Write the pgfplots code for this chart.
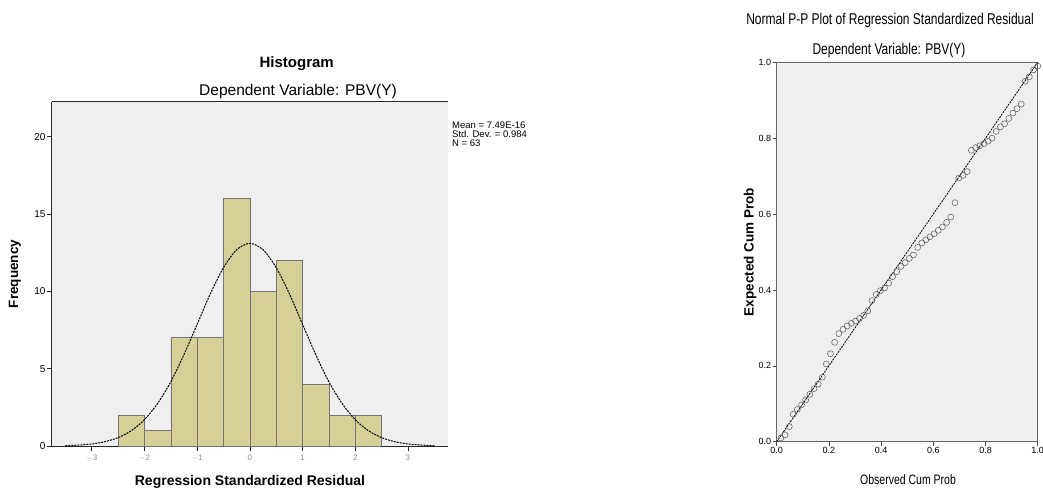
\documentclass[border=0pt]{standalone}
\usepackage{fontspec}
\setmainfont{Liberation Sans}
\usepackage{graphicx}
\usepackage{pgfplots}
\pgfplotsset{compat=1.18}
\definecolor{khaki}{RGB}{213,207,152}
\definecolor{bggray}{RGB}{239,239,240}
\begin{document}
\begin{tikzpicture}[x=1pt,y=1pt]
\path[use as bounding box] (0,0) rectangle (1043,490);
% ---------------- Histogram ----------------
\begin{axis}[
  at={(51.7pt,44pt)}, anchor=south west,
  scale only axis, width=396.3pt, height=344.3pt,
  xmin=-3.76, xmax=3.76, ymin=0, ymax=22.26,
  axis x line=box, axis y line=left,
  axis line style={-, black!85, line width=0.9pt},
  axis background/.style={fill=bggray},
  xtick={-3,-2,-1,0,1,2,3},
  xticklabels={$-$3,$-$2,$-$1,0,1,2,3},
  ytick={0,5,10,15,20},
  xtick pos=bottom, ytick pos=left,
  tick align=outside, major tick length=5pt,
  tick style={black!85, line width=0.7pt},
  /pgf/number format/assume math mode=true,
  xticklabel style={font=\fontsize{8}{9}\selectfont, text=black!45},
  yticklabel style={font=\fontsize{10}{11}\selectfont, inner sep=1pt},
  clip=false,
]
\addplot[ybar interval, fill=khaki, draw=black!55, line width=0.6pt] coordinates {
  (-2.5,2) (-2,1) (-1.5,7) (-1,7) (-0.5,16) (0,10) (0.5,12) (1,4) (1.5,2) (2,2) (2.5,0)
};
\addplot[black, line width=1pt, smooth, dash pattern=on 2pt off 1pt] coordinates {
  (-3.5,0.025) (-3.25,0.06) (-3,0.13) (-2.75,0.28) (-2.5,0.54) (-2.25,0.99)
  (-2,1.70) (-1.75,2.75) (-1.5,4.15) (-1.25,5.91) (-1,7.87) (-0.75,9.84)
  (-0.5,11.53) (-0.25,12.69) (0,13.1) (0.25,12.69) (0.5,11.53) (0.75,9.84)
  (1,7.87) (1.25,5.91) (1.5,4.15) (1.75,2.75) (2,1.70) (2.25,0.99)
  (2.5,0.54) (2.75,0.28) (3,0.13) (3.25,0.06) (3.5,0.025)
};
\end{axis}
\node[font=\bfseries\fontsize{15}{17}\selectfont] at (296.7,426.7) {Histogram};
\node[font=\fontsize{15.5}{17}\selectfont] at (298,398.3) {Dependent Variable: PBV(Y)};
\node[font=\bfseries\fontsize{14}{16}\selectfont] at (250,8.3) {Regression Standardized Residual};
\node[font=\bfseries\fontsize{13.5}{15}\selectfont, rotate=90] at (15,216) {Frequency};
\node[font=\fontsize{9.5}{10}\selectfont, anchor=west, inner sep=0pt] at (452,365) {Mean = 7.49E-16};
\node[font=\fontsize{9.5}{10}\selectfont, anchor=west, inner sep=0pt] at (452,356) {Std. Dev. = 0.984};
\node[font=\fontsize{9.5}{10}\selectfont, anchor=west, inner sep=0pt] at (452,347) {N = 63};
% ---------------- P-P plot ----------------
\begin{axis}[
  at={(776.7pt,48.3pt)}, anchor=south west,
  scale only axis, width=261pt, height=379.4pt,
  xmin=0, xmax=1, ymin=0, ymax=1,
  axis line style={black!60, line width=0.6pt},
  axis background/.style={fill=bggray},
  xtick={0,0.2,0.4,0.6,0.8,1},
  ytick={0,0.2,0.4,0.6,0.8,1},
  xtick pos=bottom, ytick pos=left,
  tick align=outside, major tick length=4pt,
  tick style={black!70, line width=0.6pt},
  /pgf/number format/assume math mode=true,
  /pgf/number format/fixed, /pgf/number format/fixed zerofill,
  /pgf/number format/precision=1,
  ticklabel style={font=\fontsize{9}{10}\selectfont, inner sep=1.5pt},
  clip=false,
]
\addplot[black, line width=0.8pt, dash pattern=on 2pt off 1pt] coordinates {(0,0) (1,1)};
\addplot[only marks, mark=o, mark size=3pt, mark options={draw=black!65, line width=0.5pt}] coordinates {
  (0.016,0.010) (0.032,0.018) (0.048,0.040) (0.063,0.072) (0.079,0.085)
  (0.095,0.097) (0.111,0.110) (0.127,0.125) (0.143,0.140) (0.159,0.152)
  (0.175,0.170) (0.190,0.205) (0.206,0.232) (0.222,0.262) (0.238,0.285)
  (0.254,0.296) (0.270,0.305) (0.286,0.312) (0.302,0.318) (0.317,0.325)
  (0.333,0.333) (0.349,0.345) (0.365,0.372) (0.381,0.388) (0.397,0.398)
  (0.413,0.405) (0.429,0.418) (0.444,0.435) (0.460,0.448) (0.476,0.462)
  (0.492,0.472) (0.508,0.483) (0.524,0.492) (0.540,0.512) (0.556,0.524)
  (0.571,0.532) (0.587,0.540) (0.603,0.548) (0.619,0.557) (0.635,0.566)
  (0.651,0.578) (0.667,0.592) (0.683,0.630) (0.698,0.695) (0.714,0.702)
  (0.730,0.712) (0.746,0.768) (0.762,0.775) (0.778,0.780) (0.794,0.786)
  (0.810,0.792) (0.825,0.800) (0.841,0.818) (0.857,0.830) (0.873,0.838)
  (0.889,0.852) (0.905,0.866) (0.921,0.878) (0.937,0.890) (0.952,0.950)
  (0.968,0.962) (0.984,0.980) (1.000,0.990)
};
\end{axis}
\node[font=\fontsize{12}{14}\selectfont] at (890,470) {\scalebox{1}[1.3]{Normal P-P Plot of Regression Standardized Residual}};
\node[font=\fontsize{12}{14}\selectfont] at (889,440) {\scalebox{1}[1.3]{Dependent Variable: PBV(Y)}};
\node[font=\fontsize{10.5}{12}\selectfont] at (908,10) {\scalebox{1}[1.3]{Observed Cum Prob}};
\node[font=\bfseries\fontsize{13.5}{15}\selectfont, rotate=90] at (750,238) {Expected Cum Prob};
\end{tikzpicture}
\end{document}
